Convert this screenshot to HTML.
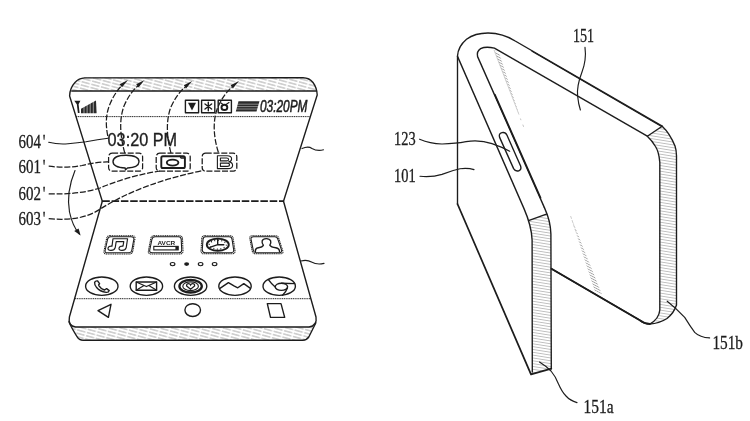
<!DOCTYPE html>
<html>
<head>
<meta charset="utf-8">
<title>Patent figure</title>
<style>
html,body{margin:0;padding:0;background:#fff;}
body{width:750px;height:421px;overflow:hidden;font-family:"Liberation Serif",serif;}
svg{display:block;position:absolute;left:0;top:0;}
.s{fill:none;stroke:#1c1c1c;stroke-width:1.38;stroke-linecap:round;stroke-linejoin:round;}
.t{fill:none;stroke:#1c1c1c;stroke-width:1.15;stroke-linecap:round;stroke-linejoin:round;}
.k{fill:none;stroke:#1c1c1c;stroke-width:1.9;stroke-linecap:round;stroke-linejoin:round;}
.d{fill:none;stroke:#1c1c1c;stroke-width:1.25;stroke-dasharray:6 1.8;stroke-linejoin:round;}
.dot{fill:none;stroke:#1c1c1c;stroke-width:1.05;stroke-dasharray:1.2 0.6;}
.lab{font-family:"Liberation Serif",serif;font-size:18px;fill:#1c1c1c;stroke:#1c1c1c;stroke-width:0.3;}
.sans{font-family:"Liberation Sans",sans-serif;fill:#1c1c1c;}
</style>
</head>
<body>
<svg width="750" height="421" viewBox="0 0 750 421">
<defs>
<pattern id="h1" width="10" height="3.3" patternUnits="userSpaceOnUse" patternTransform="rotate(15)">
<line x1="0" y1="1.65" x2="8.4" y2="1.65" stroke="#a2a2a2" stroke-width="0.85"/>
</pattern>
<pattern id="h2" width="40" height="2.8" patternUnits="userSpaceOnUse" patternTransform="rotate(9)">
<line x1="0" y1="1.4" x2="40" y2="1.4" stroke="#b8b8b8" stroke-width="0.9"/>
</pattern>
<pattern id="h3" width="6" height="2.2" patternUnits="userSpaceOnUse" patternTransform="rotate(28)">
<line x1="0" y1="1.1" x2="6" y2="1.1" stroke="#a0a0a0" stroke-width="0.8"/>
</pattern>
<filter id="bl"><feGaussianBlur stdDeviation="0.5"/></filter>
</defs>
<rect width="750" height="421" fill="#fff"/>
<g filter="url(#bl)">

<!-- ================= LEFT FIGURE ================= -->
<g id="left">
<!-- hatch bands -->
<path d="M71.7 91 Q73.5 84 77 81 Q80 78 84 77.6 L303 77.3 Q309 77.6 312.5 82 Q315.5 86 316.5 91 Z" fill="url(#h1)"/>
<path d="M71.5 327 L313.5 327 L308.8 337 Q306.6 340.2 303 340.2 L83 340.2 Q79.2 340.2 77 336.6 Z" fill="url(#h1)"/>

<!-- upper panel outline -->
<path class="s" d="M102.3 201.2 L69.6 96 Q69.8 88 75 82.5 Q79 78.2 84.5 77.9 L303 77.7 Q309.5 77.9 313 82.5 Q317 88 317.2 95 L283.5 201.2"/>
<path class="s" d="M71.7 91 L316.3 91"/>
<path class="dot" style="stroke-width:0.95" d="M76.1 116.6 L310.3 116.6"/>
<!-- fold dashed -->
<path d="M102.3 201.2 L283.5 201.2" fill="none" stroke="#1c1c1c" stroke-width="1.7" stroke-dasharray="7.5 1.8"/>
<!-- lower panel outline -->
<path class="s" d="M102.3 201.2 L69.4 317 Q67.8 325.6 75.5 327 L309 327 Q317.4 325.6 316 317 L283.5 201.2"/>
<path class="s" d="M68.9 321.8 Q71.5 328 77 336.6 Q79.2 340.2 83 340.2 L303 340.2 Q306.6 340.2 308.8 337 L315.9 322.8"/>
<path class="dot" style="stroke-width:0.95" d="M75 298.7 L311 298.7"/>

<!-- status bar: signal -->
<path d="M74.3 100.8 L80.4 100.8 L78.6 104.2 L79.6 112.9 L77.9 112.9 L76.8 104.2 Z" fill="#1c1c1c"/>
<path d="M81 113.2 L81 108.8 L96 100.6 L96.6 113.2 Z" fill="#2a2a2a"/>
<path d="M84 100 L84 114 M87.1 100 L87.1 114 M90.2 100 L90.2 114 M93.3 100 L93.3 114" stroke="#fff" stroke-width="0.55" fill="none"/>
<!-- status icons -->
<rect class="s" x="185.4" y="100.2" width="13.2" height="12.6"/>
<path d="M188 102.8 L196 102.8 L192 110.4 Z" fill="#1c1c1c"/>
<rect class="s" x="201.6" y="100.2" width="13.2" height="12.6"/>
<path class="s" d="M205 104 L211.6 109 M211.6 104 L205 109 M208.3 102.3 L208.3 110.8"/>
<rect class="s" x="218.2" y="100.2" width="13.2" height="12.6"/>
<ellipse class="k" cx="224.4" cy="107.4" rx="2.9" ry="2.6"/>
<path class="t" d="M226 104.5 L229 102.5 M221 103 L223 104.5"/>
<!-- battery -->
<path d="M238.5 101.3 L259.5 101.3 L256.5 111.6 L235.8 111.6 Z" fill="#2a2a2a"/>
<path d="M236 104.2 L260 104.2 M236 106.6 L260 106.6 M236 109 L260 109" stroke="#fff" stroke-width="0.45" fill="none"/>
<text class="sans" x="0" y="0" font-size="16.6" font-style="italic" stroke="#1c1c1c" stroke-width="0.55" transform="translate(260 112.3) scale(0.715 1)">03:20PM</text>

<!-- clock widget text -->
<text class="sans" x="0" y="0" font-size="19" stroke="#1c1c1c" stroke-width="0.35" transform="translate(107.6 146) scale(0.855 1)">03:20 PM</text>

<!-- dashed icon boxes -->
<rect class="d" x="108.6" y="153.2" width="34" height="18" rx="3.5"/>
<rect class="d" x="156.2" y="153.2" width="34" height="18" rx="3.5"/>
<rect class="d" x="202.2" y="153.2" width="34.6" height="18" rx="3.5"/>
<!-- bubble -->
<path class="s" d="M125.2 168 Q113 167.6 113 161.6 Q113.3 155.3 126 155.3 Q139 155.5 139 161.8 Q138.7 167.6 127.5 168 L125.5 169.8 Z"/>
<!-- camera -->
<rect class="k" x="161.3" y="156.2" width="23.6" height="11.8" rx="1.6"/>
<ellipse class="k" cx="172.6" cy="162.6" rx="5.8" ry="3"/>
<path class="s" d="M180 156.2 L181 158 L184.8 158"/>
<!-- B -->
<path d="M217.4 155.8 L227.2 155.8 Q231.6 155.8 231.6 158.9 Q231.6 161.2 228.8 161.9 Q232.6 162.5 232.6 165.2 Q232.6 168.6 227.8 168.6 L217.4 168.6 Z M220.4 158 L220.4 160.9 L226.6 160.9 Q228.6 160.9 228.6 159.4 Q228.6 158 226.6 158 Z M220.4 163.1 L220.4 166.4 L227.2 166.4 Q229.5 166.4 229.5 164.7 Q229.5 163.1 227.2 163.1 Z" fill="#fff" fill-rule="evenodd" stroke="#1c1c1c" stroke-width="1.1" stroke-linejoin="round"/>

<!-- dashed upward arrows -->
<path class="d" d="M107.8 136 Q104 118 110 104 Q115 92 123 84.4"/>
<path class="d" d="M124.8 153.2 Q117 125 124 106 Q130 92 139.6 84.4"/>
<path class="d" d="M171 153.2 Q164 127 170.5 108 Q177 93 187.2 85.4"/>
<path class="d" d="M218.4 152.5 Q210.5 127 217.5 108 Q224 93 234 85.4"/>
<g fill="#1c1c1c">
<path d="M128.0 80.0 L122.0 87.3 L119.6 84.3 Z"/>
<path d="M144.6 80.0 L138.6 87.3 L136.2 84.3 Z"/>
<path d="M192.2 81.0 L186.2 88.3 L183.8 85.3 Z"/>
<path d="M239.0 81.0 L233.0 88.3 L230.6 85.3 Z"/>
</g>

<!-- leaders from labels -->
<path class="t" d="M48.7 142.3 Q58 144.6 68 143.8 Q78 143 86 141.8 Q98 139.2 108 138.2"/>
<path class="d" d="M48.7 166.2 Q66 168.5 82 165.5 Q98 161.5 109.5 162"/>
<path class="d" d="M48.7 193.8 Q78 195 100 188 Q128 176 160 171"/>
<path class="d" d="M48.7 218.6 Q82 222 101 208.5 Q142 183 203 170.5"/>
<!-- rotate arrow -->
<path class="t" d="M75 170.5 Q66 192 69.5 212 Q72.5 226 79.3 234"/>
<path d="M80.6 235.6 L74.2 231 L78.6 228.6 Z" fill="#1c1c1c"/>

<!-- right leaders -->
<path class="t" d="M302 148.6 Q308 145.8 312 148.4 Q317 151.4 323.5 149.8"/>
<path class="t" d="M301 261 Q307 259.4 311.5 262 Q317 265.2 324 263.4"/>

<!-- row 1 icons -->
<g id="row1">
<path class="dot" d="M110 235.7 L132 235.7 Q135.4 235.7 135 238.6 L132.8 251 Q132.2 254 129.2 254 L106.4 254 Q103.4 254 104 251 L106.6 238.6 Q107.2 235.7 110 235.7 Z"/>
<path class="t" transform="translate(119.4 244.85) scale(0.925 0.875) translate(-119.4 -244.85)" d="M110 235.7 L132 235.7 Q135.4 235.7 135 238.6 L132.8 251 Q132.2 254 129.2 254 L106.4 254 Q103.4 254 104 251 L106.6 238.6 Q107.2 235.7 110 235.7 Z"/>
<path class="t" d="M113 238.7 L127.6 238.7 L126.2 247.6 Q125.4 250.4 122 250.4 Q118.6 250.2 119 248 Q119.6 246 123 246.2 L123.8 241.6 L116.2 241.6 L115.2 247.6 Q114.4 250.4 111 250.4 Q107.6 250.2 108 248 Q108.6 246 112 246.2 Z"/>

<path class="dot" d="M154.2 235.7 L179.4 235.7 Q182.4 235.7 182.5 238.6 L183 251 Q183 254 180 254 L151 254 Q148 254 148.4 251 L150.8 238.6 Q151.4 235.7 154.2 235.7 Z"/>
<path class="t" transform="translate(165.7 244.85) scale(0.925 0.875) translate(-165.7 -244.85)" d="M154.2 235.7 L179.4 235.7 Q182.4 235.7 182.5 238.6 L183 251 Q183 254 180 254 L151 254 Q148 254 148.4 251 L150.8 238.6 Q151.4 235.7 154.2 235.7 Z"/>
<text class="sans" x="0" y="0" font-size="5.2" font-weight="bold" transform="translate(157.4 244.9) scale(1.25 1)">AVCR</text>
<rect x="153.8" y="246.4" width="24.4" height="3.5" fill="none" stroke="#1c1c1c" stroke-width="1.1"/>
<rect x="175.4" y="246.4" width="2.8" height="3.5" fill="#1c1c1c"/>

<path class="dot" d="M204.8 235.7 L230 235.7 Q233 235.7 233.2 238.6 L235 250.8 Q235.2 253.8 232.2 253.8 L204 253.8 Q201 253.8 201 250.8 L201.8 238.6 Q202 235.7 204.8 235.7 Z"/>
<path class="t" transform="translate(218 244.75) scale(0.925 0.875) translate(-218 -244.75)" d="M204.8 235.7 L230 235.7 Q233 235.7 233.2 238.6 L235 250.8 Q235.2 253.8 232.2 253.8 L204 253.8 Q201 253.8 201 250.8 L201.8 238.6 Q202 235.7 204.8 235.7 Z"/>
<ellipse class="k" cx="217.8" cy="244.7" rx="11" ry="6.1"/>
<path class="s" d="M217.7 239.4 L217.7 244.7 L223.8 244.7 M217.7 244.7 L209.8 247.4"/><ellipse cx="217.8" cy="244.7" rx="8.6" ry="4.4" fill="none" stroke="#1c1c1c" stroke-width="1.4" stroke-dasharray="0.9 2.4" stroke-dashoffset="0" pathLength="40" style="stroke-dasharray:0.9 2.43"/>

<path class="dot" d="M252.6 235.7 L275.4 235.7 Q278.2 235.7 278.8 238.6 L282.8 250.8 Q283.6 253.8 280.6 253.8 L255.4 253.8 Q252.6 253.8 252.2 250.8 L249.8 238.6 Q249.4 235.7 252.6 235.7 Z"/>
<path class="t" transform="translate(266.4 244.75) scale(0.925 0.875) translate(-266.4 -244.75)" d="M252.6 235.7 L275.4 235.7 Q278.2 235.7 278.8 238.6 L282.8 250.8 Q283.6 253.8 280.6 253.8 L255.4 253.8 Q252.6 253.8 252.2 250.8 L249.8 238.6 Q249.4 235.7 252.6 235.7 Z"/>
<path class="s" d="M255.4 251.6 Q255 248.4 258.4 247.8 Q262.6 247.2 263.4 245.2 Q261.6 243.4 262.2 240.8 Q263 238.6 266.2 238.6 Q269.6 238.6 270.6 240.8 Q271.4 243.2 269.8 245.2 Q271 247.2 275.8 247.8 Q279.4 248.4 279.6 251.6"/>
</g>

<!-- page dots -->
<ellipse class="t" cx="172.6" cy="264.1" rx="2.3" ry="1.6"/>
<ellipse cx="186.6" cy="264.1" rx="2.5" ry="1.8" fill="#1c1c1c"/>
<ellipse class="t" cx="200.6" cy="264.1" rx="2.3" ry="1.6"/>
<ellipse class="t" cx="214.6" cy="264.1" rx="2.3" ry="1.6"/>

<!-- row 2 icons -->
<g id="row2">
<ellipse class="s" cx="101.8" cy="286.2" rx="16.2" ry="9.2"/>
<path class="s" d="M94.6 282.4 Q95.6 280.6 97.6 281 L99.6 283.6 Q98.4 284.6 98.8 285.6 Q100.6 288.6 104.4 290 Q105.8 289.4 106.6 288.6 L109.2 290.6 Q108.6 292.6 106.2 292.4 Q100 291.6 96.4 287.2 Q94.4 284.6 94.6 282.4 Z"/>

<ellipse class="s" cx="146.4" cy="286.2" rx="16.2" ry="9.2"/>
<rect class="s" x="136.2" y="282" width="20.4" height="8.2"/>
<path class="t" d="M136.2 282 L146.4 286.6 L156.6 282 M136.2 290.2 L144 285.6 M156.6 290.2 L148.8 285.6"/>

<ellipse class="s" cx="190.6" cy="286.2" rx="16.2" ry="9.2"/>
<ellipse cx="190.6" cy="286.2" rx="11.2" ry="6.3" fill="none" stroke="#1c1c1c" stroke-width="2.3"/>
<ellipse class="t" cx="190.6" cy="286.2" rx="7.8" ry="4.4"/>
<path d="M190.6 289.2 L186.6 286 Q186.4 283.6 188.6 283.6 Q190 283.6 190.6 284.9 Q191.2 283.6 192.6 283.6 Q194.8 283.6 194.6 286 Z" fill="#fff" stroke="#1c1c1c" stroke-width="1.3"/>

<ellipse class="s" cx="235" cy="286.2" rx="16.2" ry="9.2"/>
<path class="s" d="M219.6 288.6 L228.4 282.6 L234.4 286.2 L237.8 287.8 L243.8 283.6 L250.4 288.4"/>

<ellipse class="s" cx="279.2" cy="286.2" rx="16.2" ry="9.2"/>
<ellipse class="s" cx="281.4" cy="286.8" rx="6.2" ry="3.6"/>
<path class="s" d="M268.4 279.6 Q271.6 284 275.2 287 M281.6 283.2 L294.6 283.6 M287.4 288 Q286 292 282.6 295.2"/>
</g>

<!-- nav bar -->
<path class="s" d="M98 310.6 L111 304.3 L108.4 317.4 Z"/>
<ellipse class="s" cx="192.7" cy="310.1" rx="7.8" ry="6.4"/>
<path class="s" d="M267.3 303.6 L281 303.6 L284.7 317.4 L270.5 317.4 Z"/>

<!-- labels -->
<text class="lab" transform="translate(18.6 148.2) scale(0.83 1)">604<tspan dx="2.2">'</tspan></text>
<text class="lab" transform="translate(18.6 173.4) scale(0.83 1)">601<tspan dx="2.2">'</tspan></text>
<text class="lab" transform="translate(18.6 200) scale(0.83 1)">602<tspan dx="2.2">'</tspan></text>
<text class="lab" transform="translate(18.6 225.3) scale(0.83 1)">603<tspan dx="2.2">'</tspan></text>
</g>

<!-- ================= RIGHT FIGURE ================= -->
<g id="right">
<!-- hatch strips -->
<path d="M647.3 136.2 L662.2 126.2 Q670 133.5 675 146 Q676.4 150 676.5 156 L676.5 305 Q674 313 667 318.5 Q659 323.6 649.8 324 Q657 321 659 314 L659.8 310 L659.8 162.3 Q659 152 655.5 146.5 Q652 140.5 647.3 136.2 Z" fill="url(#h2)"/>
<path d="M529.2 220.4 L546.4 214.2 Q550.6 224 550.9 234 L551.3 368.7 L531 374.3 L532.3 371 L532.1 240 Q531.6 229 529.2 220.4 Z" fill="url(#h2)"/>

<!-- outer silhouette -->
<path class="s" d="M457.5 204 L457.5 56 Q458 46.5 466.5 39.2 Q475 33 488 33 Q503 33.2 515.2 41 L662.2 126.2 Q670 133.5 675 146 Q676.4 150 676.5 156 L676.5 305 Q674 313 667 318.5 Q659 323.6 649.8 324 Q644 324 639.8 320.2 L551.5 268.8"/>
<path class="t" d="M532 51.3 L662 126.7"/>
<!-- inner loop -->
<path class="s" d="M544.4 207.6 L477.6 56.6 Q476.4 51.4 480.6 48.6 Q486 46 494.4 48.2 L647.3 136.2 Q652 140.5 655.5 146.5 Q659 152 659.8 162.3 L659.8 310 Q659 319 649.8 324"/>
<path class="s" style="stroke-width:1.6" d="M494.9 94.6 L540.6 197.8"/>
<path class="s" d="M647.3 136.2 L662.2 126.2"/>
<!-- back edge -->
<path class="s" d="M457.5 56.4 L524 208.6 Q531.6 226 532.1 240 L532.3 372"/>
<path class="s" d="M544.4 207.6 Q550.6 221 550.9 234 L551.3 368.7"/>
<path class="s" d="M529.2 220.4 L546.4 214.2"/>
<!-- bottom left -->
<path class="s" style="stroke-width:1.75" d="M457.5 204 L531 374.3 L551.3 368.7"/>
<path class="s" style="stroke-width:1.9" d="M551.5 268.8 L639.8 320.2 Q644 323.6 649.8 324"/>

<!-- button -->
<path class="s" d="M499.6 137.4 Q498.4 133.6 502 132.6 Q505.4 131.8 507 135.2 L520.6 166 Q521.8 169.6 518.8 170.8 Q515.4 171.8 513.6 168.6 Z"/>

<!-- gray reflections -->
<path d="M493.8 49.6 L499.8 54.4 L519.2 115 Z" fill="url(#h3)"/>
<path d="M494 50 L519 114.6" fill="none" stroke="#c4c4c4" stroke-width="0.8"/>
<path d="M520.4 118.5 L521 120.2 M522.8 124.6 L523.6 126.8" fill="none" stroke="#c4c4c4" stroke-width="1"/>
<path d="M570.6 216 L602 294.6 L594.6 290.4 Z" fill="url(#h3)"/>
<path d="M570.6 216 L576 232" fill="none" stroke="#c8c8c8" stroke-width="0.9" stroke-dasharray="3 1.5"/>
<!-- leaders -->
<path class="t" d="M585 47.4 Q586.6 60 582 72 Q576.6 86 577.6 96 Q578.4 104 580.4 110"/>
<path class="t" d="M419.6 139.2 Q430 143.6 442 144 Q456 143.6 466 141.6 Q480 139.6 492 143.6 Q502 147 509.7 151.2"/>
<path class="t" d="M420 176.3 Q432 177.4 442 174.4 Q452 170.4 460 168.8 Q468 167.8 474 169.6"/>
<path class="t" d="M667.2 301.2 Q676 308 684.7 317.4 Q690 326 694.7 332.4 Q700 337.6 709.6 337.9"/>
<path class="t" d="M539.5 362 Q546 366 551 371 Q556 377 558.5 384 Q562 392 566 396 Q570 400.6 577 402.6"/>

<!-- labels -->
<text class="lab" transform="translate(573 42.2) scale(0.78 1)">151</text>
<text class="lab" transform="translate(394 145.4) scale(0.8 1)">123</text>
<text class="lab" transform="translate(394 181.6) scale(0.8 1)">101</text>
<text class="lab" transform="translate(712.4 348.6) scale(0.85 1)">151b</text>
<text class="lab" transform="translate(583.6 412.6) scale(0.86 1)">151a</text>
</g>
</g>
</svg>
</body>
</html>
